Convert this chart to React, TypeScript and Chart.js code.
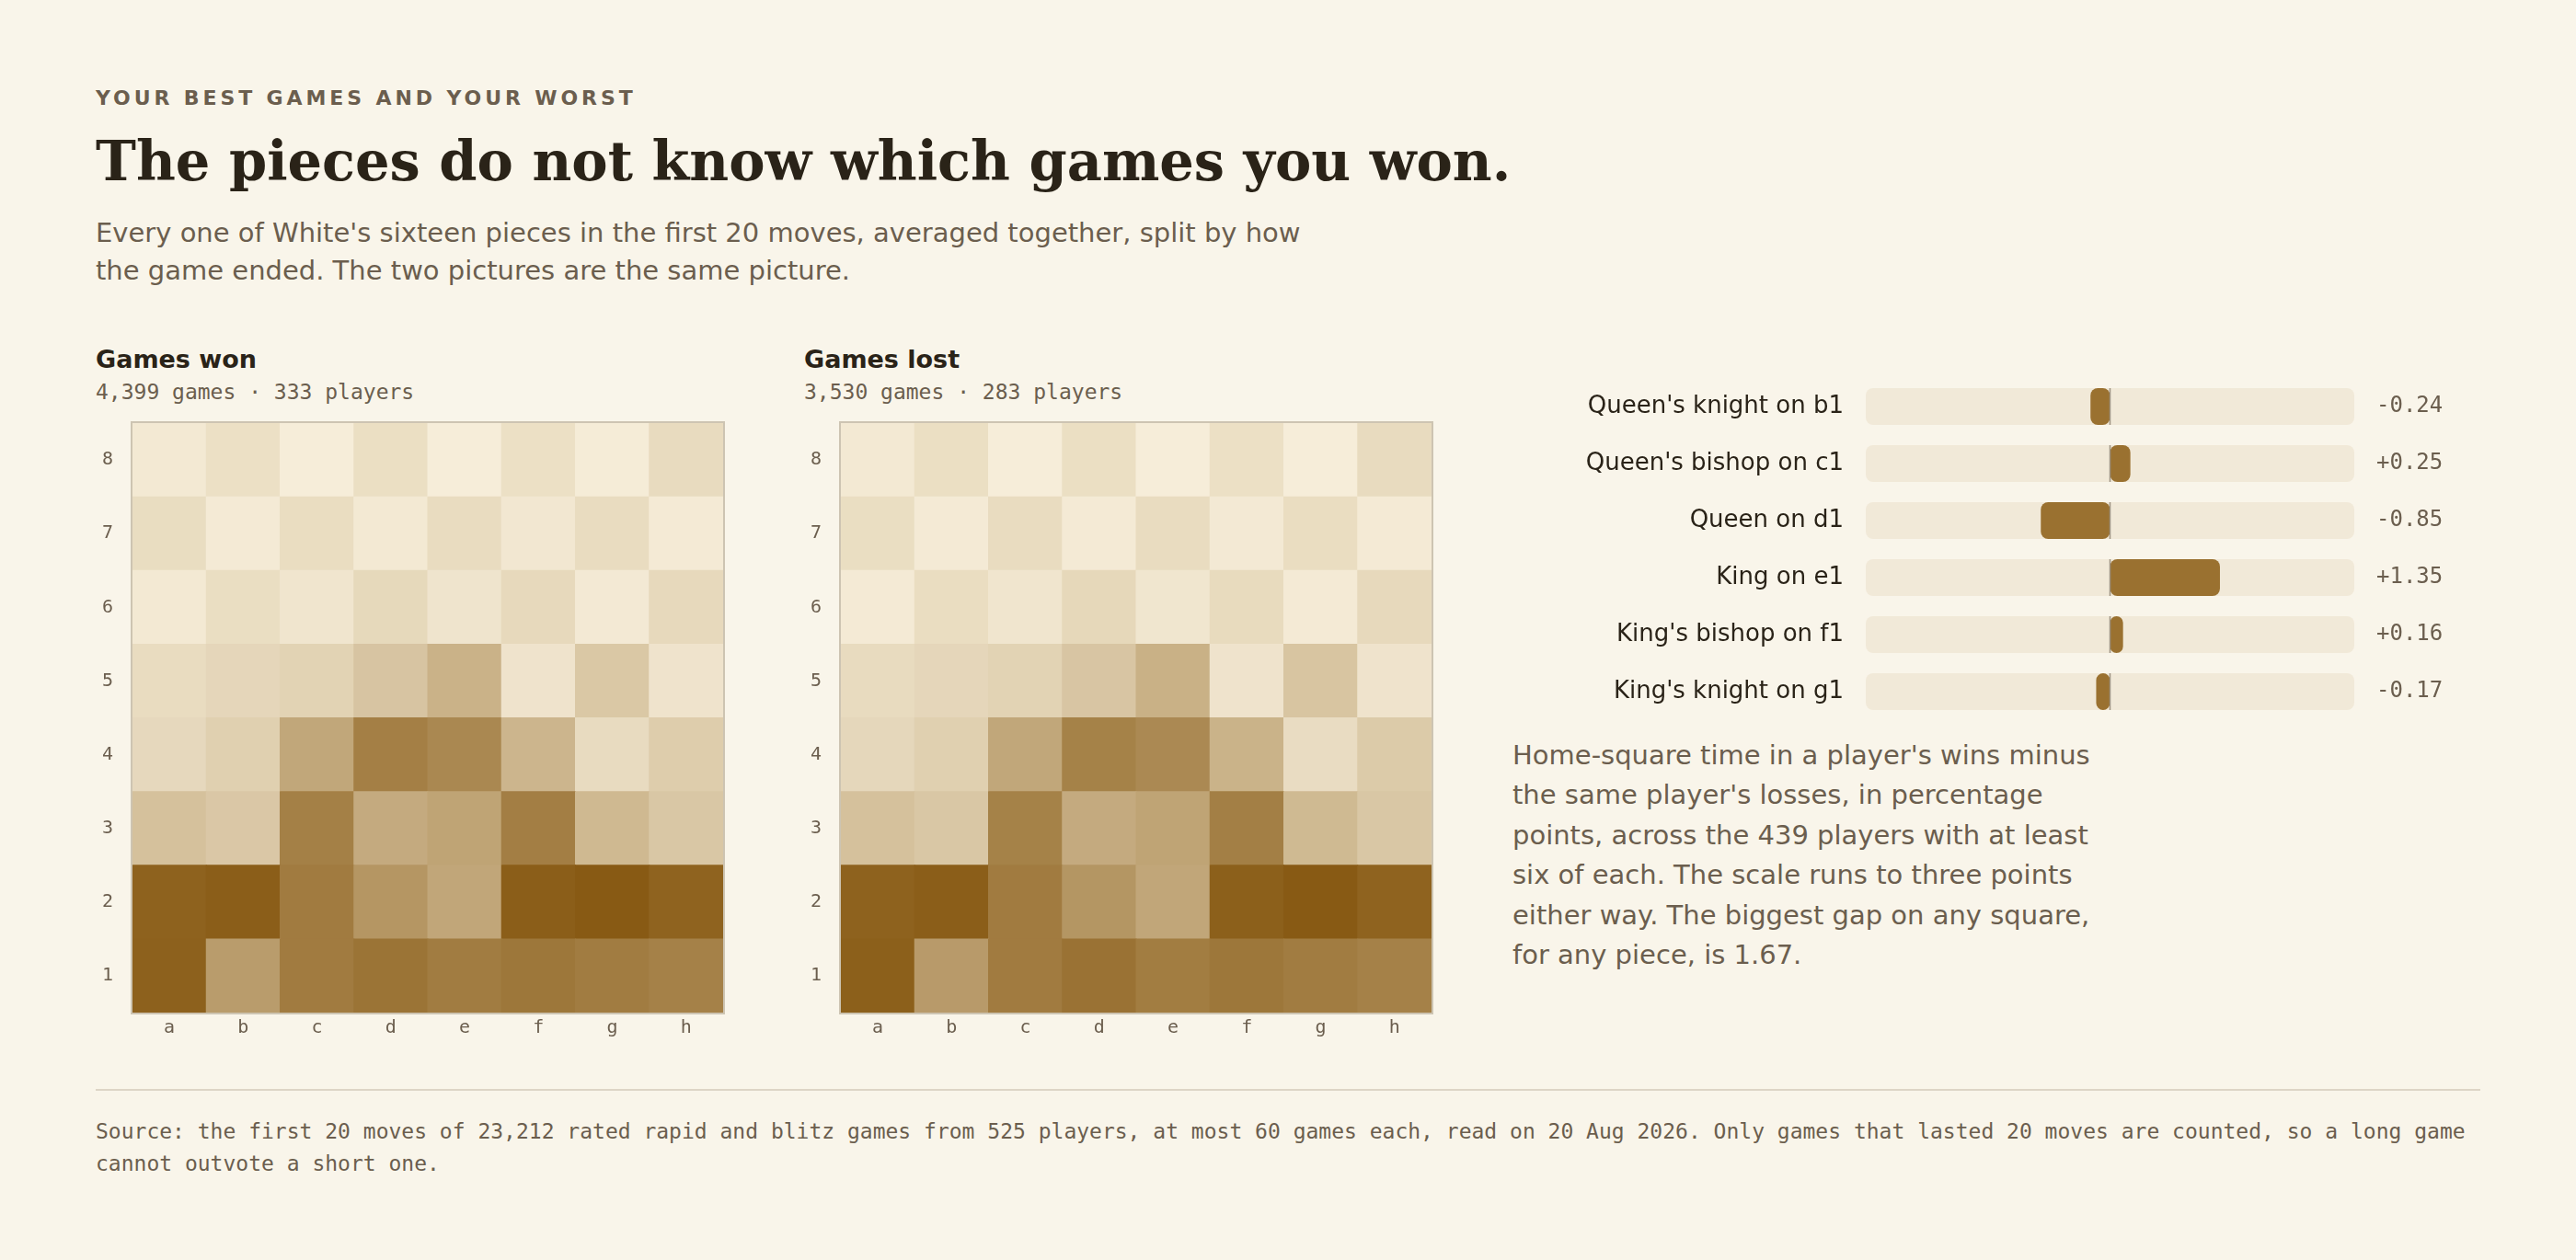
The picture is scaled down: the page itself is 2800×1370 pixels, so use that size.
import React, { useEffect, useRef } from "react";
import { Chart, registerables } from "chart.js";

Chart.register(...registerables);

// ---------- data ----------
const FILES = ["a", "b", "c", "d", "e", "f", "g", "h"];
const RANKS = ["1", "2", "3", "4", "5", "6", "7", "8"];

// Cell darkness (0–100), rows listed from rank 8 (top) down to rank 1 (bottom)
const wonShade: number[][] = [
  [3, 0, 0, 1, 0, 0, 1, 3.5],
  [2.5, 2, 2, 3, 3, 4, 3, 2],
  [3, 1.5, 5.5, 5.5, 6, 5, 2.5, 5],
  [3, 15.5, 9.5, 27.5, 34, 6.5, 18, 6.5],
  [14, 11.5, 47.5, 71.5, 68.5, 31.5, 12.5, 14],
  [23, 25.5, 71, 45, 44.5, 75, 29, 26],
  [94, 96, 77, 54.5, 48, 96, 99, 92.5],
  [94, 55, 74.5, 82, 74, 80, 74, 73],
];

const lostShade: number[][] = [
  [3, 1, 0, 1, 0, 0, 0, 3.5],
  [1.5, 2, 3, 2, 3, 2.5, 2, 2],
  [2, 2, 5.5, 6, 5, 4, 2, 5],
  [3.5, 15.5, 9.5, 27, 35, 6.5, 20, 6.5],
  [15, 12, 47.5, 70, 67.5, 33.5, 11.5, 15.5],
  [23, 26, 70, 45, 44.5, 74.5, 28.5, 26],
  [94, 96, 77, 55, 48, 95, 99, 92.5],
  [95, 56, 74.5, 83, 73.5, 80, 74, 73],
];

const PIECES = [
  "Queen's knight on b1",
  "Queen's bishop on c1",
  "Queen on d1",
  "King on e1",
  "King's bishop on f1",
  "King's knight on g1",
];
const GAP = [-0.24, 0.25, -0.85, 1.35, 0.16, -0.17];
const SCALE_MIN = -3;
const SCALE_MAX = 3;

// ---------- style ----------
const BG = "#f9f5ea";
const INK = "#2a2318";
const MUTED = "#6b5e4e";
const SANS = "'DejaVu Sans', sans-serif";
const SERIF = "'DejaVu Serif', serif";
const MONO = "'DejaVu Sans Mono', monospace";

const LIGHT_BASE = [246, 237, 217];
const DARK_BASE = [236, 224, 197];
const BROWN = [135, 89, 18];

function shadeColor(v: number, light: boolean) {
  const t = Math.max(0, Math.min(1, v / 100));
  const base = light ? LIGHT_BASE : DARK_BASE;
  const c = base.map((b, i) => Math.round(b + (BROWN[i] - b) * t));
  return `rgb(${c[0]},${c[1]},${c[2]})`;
}

const boardFrame = {
  id: "boardFrame",
  afterDraw(chart: any) {
    const { ctx, chartArea } = chart;
    ctx.save();
    ctx.strokeStyle = "#cdc4b2";
    ctx.lineWidth = 2;
    ctx.strokeRect(
      chartArea.left - 1,
      chartArea.top - 1,
      chartArea.right - chartArea.left + 2,
      chartArea.bottom - chartArea.top + 2
    );
    ctx.restore();
  },
};

const zeroLine = {
  id: "zeroLine",
  afterDatasetsDraw(chart: any) {
    const meta = chart.getDatasetMeta(1);
    const x = chart.scales.x.getPixelForValue(0);
    const { ctx } = chart;
    ctx.save();
    ctx.strokeStyle = "#9c9282";
    ctx.lineWidth = 1.5;
    meta.data.forEach((el: any) => {
      const { y, height } = el.getProps(["y", "height"], true);
      ctx.beginPath();
      ctx.moveTo(x, y - height / 2);
      ctx.lineTo(x, y + height / 2);
      ctx.stroke();
    });
    ctx.restore();
  },
};

const noPadV = (s: any, w: number) => {
  s.width = w;
  s.paddingTop = 0;
  s.paddingBottom = 0;
};
const noPadH = (s: any, h: number) => {
  s.height = h;
  s.paddingLeft = 0;
  s.paddingRight = 0;
};

function boardConfig(shade: number[][]): any {
  const datasets = RANKS.map((rank, ri) => {
    const row = shade[7 - ri];
    return {
      label: rank,
      data: FILES.map(() => 1),
      backgroundColor: FILES.map((_, fi) =>
        shadeColor(row[fi], (fi + 1 + Number(rank)) % 2 === 1)
      ),
      borderWidth: 0,
      barPercentage: 1,
      categoryPercentage: 1,
      inflateAmount: 0.5,
    };
  });
  return {
    type: "bar",
    data: { labels: FILES, datasets },
    options: {
      animation: false,
      responsive: false,
      maintainAspectRatio: false,
      layout: { padding: { top: 5, right: 4, left: 0, bottom: 0 } },
      plugins: { legend: { display: false }, tooltip: { enabled: false } },
      scales: {
        x: {
          stacked: true,
          grid: { display: false },
          border: { display: false },
          ticks: { color: MUTED, font: { family: MONO, size: 20 }, padding: -3 },
          afterFit: (s: any) => noPadH(s, 40),
        },
        y: {
          stacked: true,
          min: 0,
          max: 8,
          grid: { display: false },
          border: { display: false },
          afterBuildTicks: (s: any) => {
            s.ticks = RANKS.map((_, i) => ({ value: i + 0.5 }));
          },
          ticks: {
            autoSkip: false,
            color: MUTED,
            font: { family: MONO, size: 20 },
            padding: 13,
            callback: (v: any) => RANKS[Math.floor(Number(v))],
          },
          afterFit: (s: any) => noPadV(s, 46),
        },
      },
    },
    plugins: [boardFrame],
  };
}

function gapConfig(): any {
  return {
    type: "bar",
    data: {
      labels: PIECES,
      datasets: [
        {
          label: "gap",
          data: GAP,
          backgroundColor: "#9a7130",
          borderRadius: 8,
          borderSkipped: false,
          borderWidth: 0,
          grouped: false,
          barPercentage: 40 / 62,
          categoryPercentage: 1,
          order: 1,
        },
        {
          label: "track",
          data: PIECES.map(() => [SCALE_MIN, SCALE_MAX]),
          backgroundColor: "#f1e9d8",
          borderRadius: 8,
          borderSkipped: false,
          borderWidth: 0,
          grouped: false,
          barPercentage: 40 / 62,
          categoryPercentage: 1,
          order: 2,
        },
      ],
    },
    options: {
      indexAxis: "y",
      animation: false,
      responsive: false,
      maintainAspectRatio: false,
      layout: { padding: { top: 11, bottom: 17, left: 0, right: 0 } },
      plugins: { legend: { display: false }, tooltip: { enabled: false } },
      scales: {
        x: { type: "linear", min: SCALE_MIN, max: SCALE_MAX, display: false },
        y: {
          type: "category",
          offset: true,
          grid: { display: false },
          border: { display: false },
          ticks: { color: INK, font: { family: SANS, size: 26 }, padding: 16 },
          afterFit: (s: any) => noPadV(s, 408),
        },
        y2: {
          type: "category",
          position: "right",
          offset: true,
          labels: GAP.map((v) => (v > 0 ? "+" : "") + v.toFixed(2)),
          grid: { display: false },
          border: { display: false },
          ticks: { color: MUTED, font: { family: MONO, size: 24 }, padding: 16 },
          afterFit: (s: any) => noPadV(s, 161),
        },
      },
    },
    plugins: [zeroLine],
  };
}

function ChartCanvas({ config, style, width, height }: any) {
  const ref = useRef<HTMLCanvasElement>(null);
  useEffect(() => {
    if (!ref.current) return;
    const chart = new Chart(ref.current, config());
    return () => chart.destroy();
  }, []);
  return (
    <canvas
      ref={ref}
      width={width}
      height={height}
      style={{ position: "absolute", width, height, ...style }}
    />
  );
}

const abs = (s: any) => ({ position: "absolute" as const, margin: 0, ...s });

function Panel({ left, title, sub, shade }: any) {
  return (
    <>
      <div
        style={abs({
          left,
          top: 375,
          font: `bold 27px/32px ${SANS}`,
          color: INK,
          whiteSpace: "nowrap",
        })}
      >
        {title}
      </div>
      <div
        style={abs({
          left,
          top: 412,
          font: `23px/28px ${MONO}`,
          color: MUTED,
          whiteSpace: "nowrap",
        })}
      >
        {sub}
      </div>
      <ChartCanvas
        config={() => boardConfig(shade)}
        width={692}
        height={686}
        style={{ left: left - 6, top: 455 }}
      />
    </>
  );
}

export default function App() {
  useEffect(() => {
    document.body.style.margin = "0";
    document.body.style.background = BG;
  }, []);
  return (
    <div
      style={{
        position: "absolute",
        left: 0,
        top: 0,
        width: 2800,
        height: 1370,
        background: BG,
        overflow: "hidden",
      }}
    >
      <div
        style={abs({
          left: 104,
          top: 94,
          font: `bold 22px/26px ${SANS}`,
          letterSpacing: "3.9px",
          color: MUTED,
          whiteSpace: "nowrap",
        })}
      >
        YOUR BEST GAMES AND YOUR WORST
      </div>
      <div
        style={abs({
          left: 104,
          top: 141,
          font: `bold 59px/70px ${SERIF}`,
          color: INK,
          whiteSpace: "nowrap",
        })}
      >
        The pieces do not know which games you won.
      </div>
      <div
        style={abs({
          left: 104,
          top: 233,
          font: `29px/41px ${SANS}`,
          color: MUTED,
          whiteSpace: "nowrap",
        })}
      >
        Every one of White's sixteen pieces in the first 20 moves, averaged together, split by how
        <br />
        the game ended. The two pictures are the same picture.
      </div>

      <Panel left={104} title="Games won" sub="4,399 games · 333 players" shade={wonShade} />
      <Panel left={874} title="Games lost" sub="3,530 games · 283 players" shade={lostShade} />

      <ChartCanvas config={gapConfig} width={1100} height={400} style={{ left: 1620, top: 400 }} />

      <div
        style={abs({
          left: 1644,
          top: 800,
          font: `29px/43.4px ${SANS}`,
          color: MUTED,
          whiteSpace: "nowrap",
        })}
      >
        Home-square time in a player's wins minus
        <br />
        the same player's losses, in percentage
        <br />
        points, across the 439 players with at least
        <br />
        six of each. The scale runs to three points
        <br />
        either way. The biggest gap on any square,
        <br />
        for any piece, is 1.67.
      </div>

      <div style={abs({ left: 104, top: 1184, width: 2592, height: 2, background: "#ddd5c6" })} />
      <div
        style={abs({
          left: 104,
          top: 1213,
          width: 2592,
          font: `23px/35px ${MONO}`,
          color: MUTED,
        })}
      >
        Source: the first 20 moves of 23,212 rated rapid and blitz games from 525 players, at most 60
        games each, read on 20 Aug 2026. Only games that lasted 20 moves are counted, so a long game
        cannot outvote a short one.
      </div>
    </div>
  );
}
